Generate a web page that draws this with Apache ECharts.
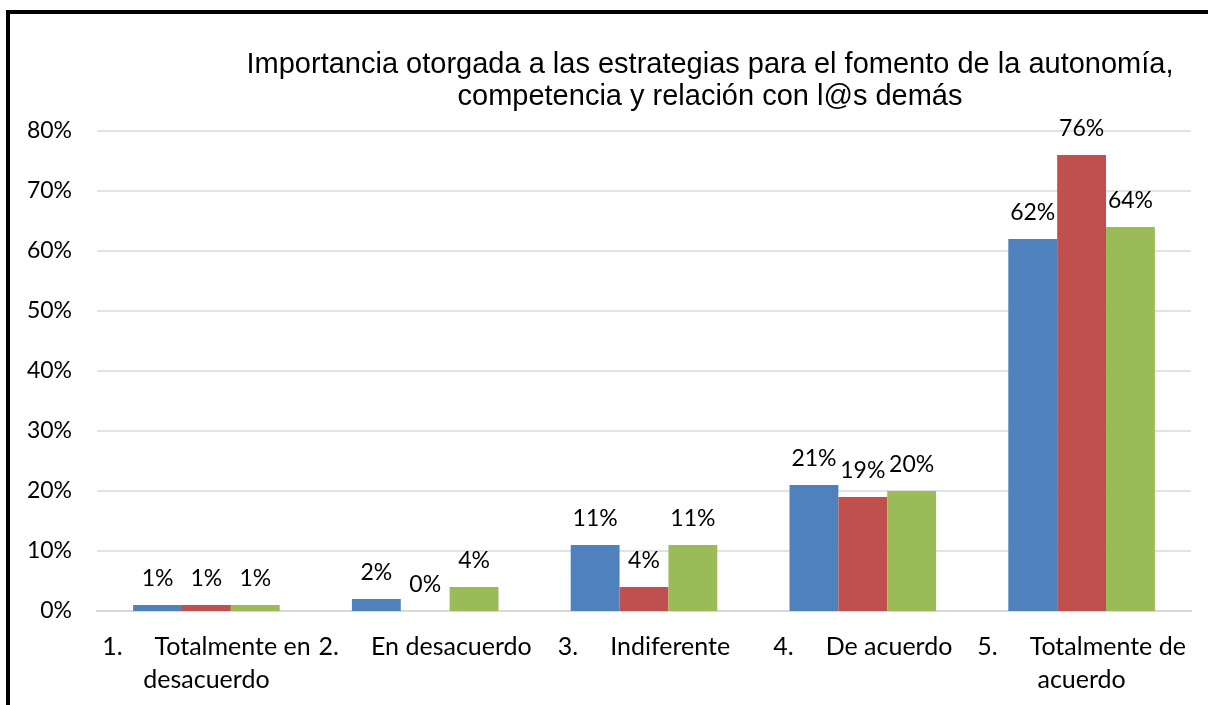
<!DOCTYPE html>
<html>
<head>
<meta charset="utf-8">
<script src="https://cdn.jsdelivr.net/npm/echarts@6/dist/echarts.min.js"></script>
<style>
  html, body { margin: 0; padding: 0; background: #fff; }
  #frame { position: absolute; left: 6px; top: 10px; width: 1202px; height: 695px;
           border-left: 4px solid #000; border-top: 4px solid #000; box-sizing: border-box; }
  #main { position: absolute; left: 0; top: 0; width: 1208px; height: 705px; }
</style>
</head>
<body>
<div id="frame"></div>
<div id="main"></div>
<script>
// categorias del eje x
const categorias = [
  '1.     Totalmente en\ndesacuerdo',
  '2.     En desacuerdo',
  '3.     Indiferente',
  '4.     De acuerdo',
  '5.     Totalmente de\nacuerdo'
]
// valores en %
const serieAzul = [1, 2, 11, 21, 62]
const serieRoja = [1, 0, 4, 19, 76]
const serieVerde = [1, 4, 11, 20, 64]
const titulo = 'Importancia otorgada a las estrategias para el fomento de la autonomía,\ncompetencia y relación con l@s demás'

const chart = echarts.init(document.getElementById('main'))

function barra(data, color) {
  return {
    type: 'bar',
    data: data,
    barGap: 0,
    barCategoryGap: '33%',
    itemStyle: { color: color },
    label: {
      show: true,
      position: 'top',
      distance: 15,
      formatter: '{c}%',
      color: '#000',
      fontFamily: 'Lato',
      fontSize: 23
    },
    animation: false
  }
}

chart.setOption({
  title: {
    text: titulo,
    left: 705,
    textAlign: 'center',
    top: 44,
    textStyle: {
      fontFamily: 'Liberation Sans',
      fontWeight: 'normal',
      fontSize: 29,
      lineHeight: 32,
      color: '#000'
    }
  },
  grid: { left: 97, right: 17, top: 131, bottom: 94 },
  xAxis: {
    type: 'category',
    data: categorias,
    axisLine: { lineStyle: { color: '#D9D9D9', width: 2 } },
    axisTick: { show: false },
    axisLabel: {
      interval: 0,
      margin: 19,
      color: '#000',
      fontFamily: 'Lato',
      fontSize: 25,
      lineHeight: 33
    }
  },
  yAxis: {
    type: 'value',
    min: 0,
    max: 80,
    interval: 10,
    axisLine: { show: false },
    axisTick: { show: false },
    splitLine: { lineStyle: { color: '#D9D9D9', width: 1.5 } },
    axisLabel: {
      formatter: '{value}%',
      margin: 25,
      color: '#000',
      fontFamily: 'Lato',
      fontSize: 23
    }
  },
  series: [
    barra(serieAzul, '#4F81BD'),
    barra(serieRoja, '#C0504D'),
    barra(serieVerde, '#9BBB59')
  ]
})
</script>
</body>
</html>
